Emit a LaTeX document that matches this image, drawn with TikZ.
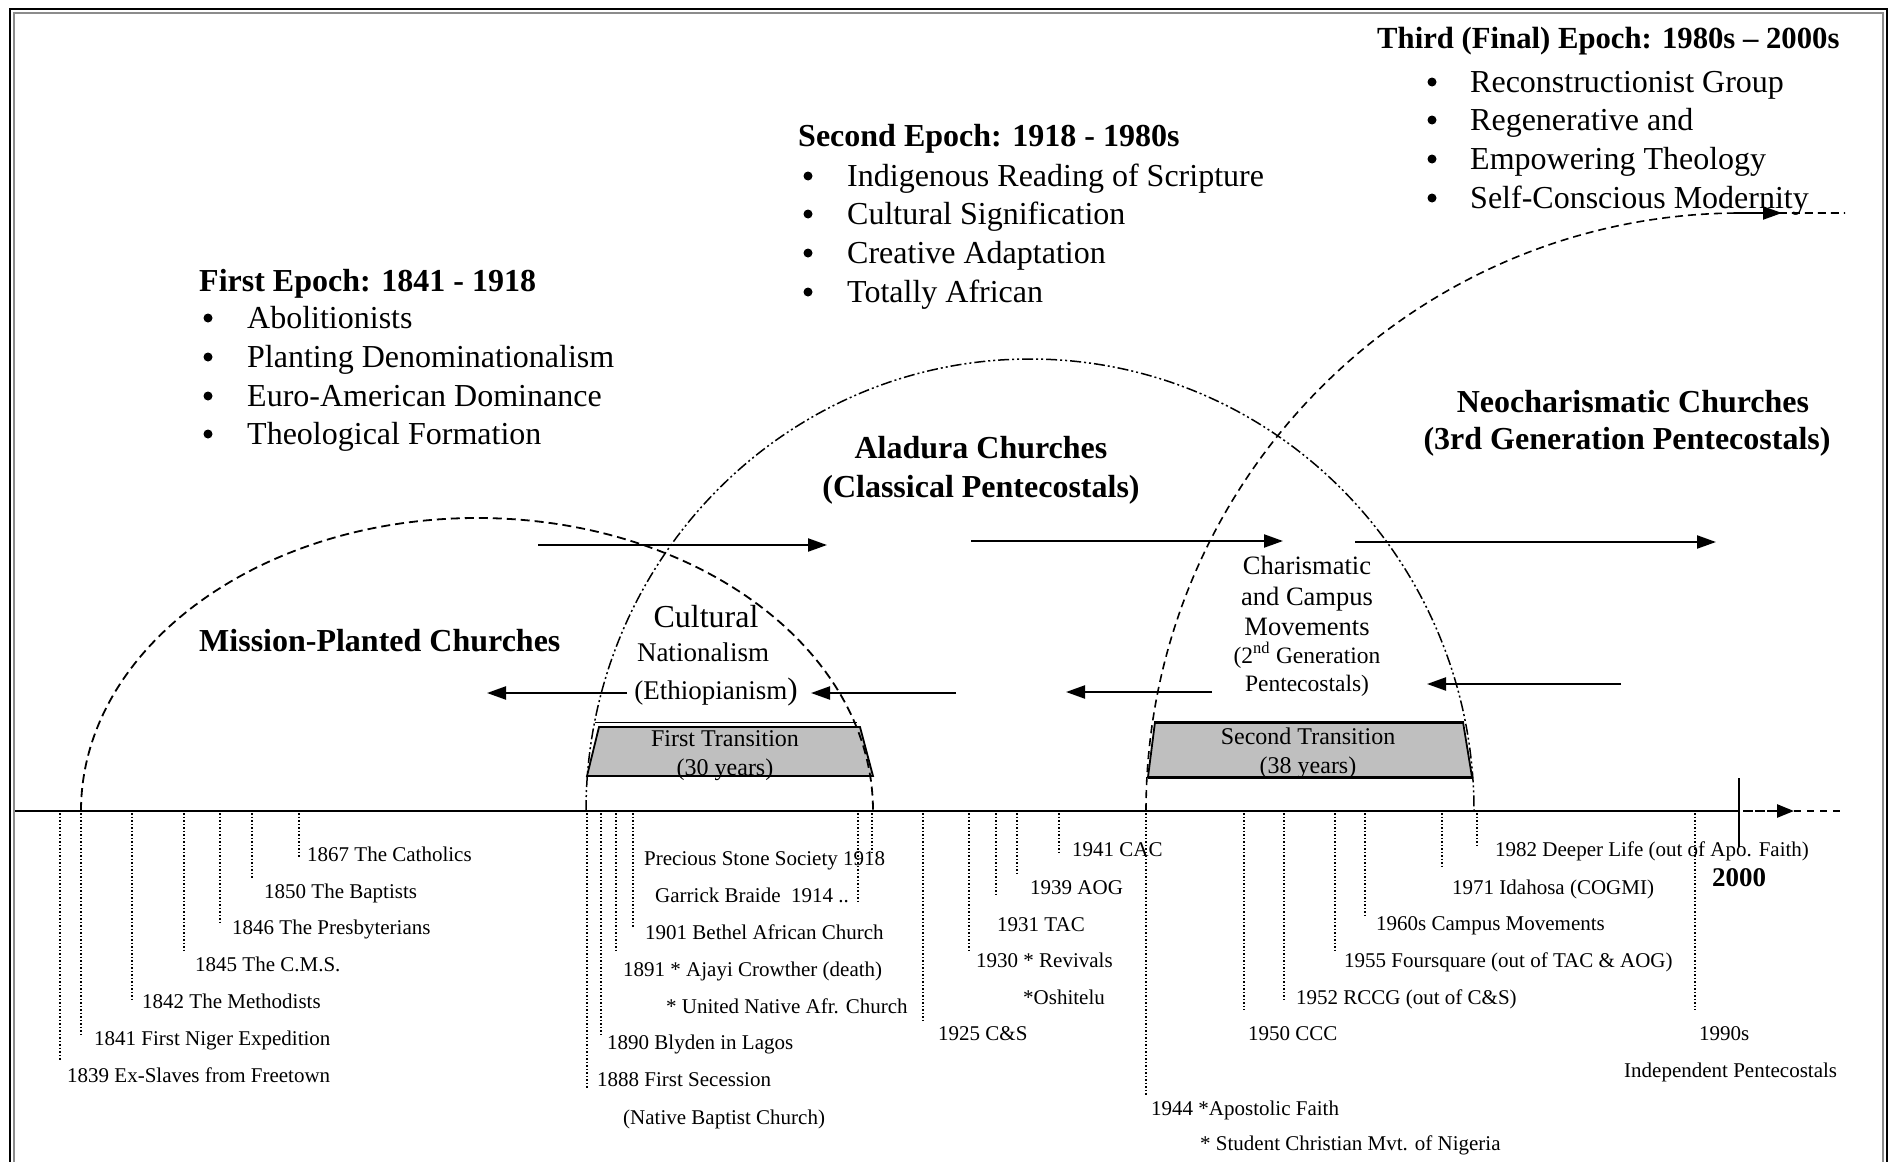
\documentclass[tikz,border=0pt]{standalone}
\usepackage{fontspec}
\setmainfont{Liberation Serif}
\usetikzlibrary{arrows.meta}
\begin{document}
\begin{tikzpicture}[x=1pt,y=-1pt,
  lab/.style={font=\fontsize{21}{24}\selectfont,anchor=west,inner sep=0pt,text height=14.3pt,text depth=0pt},
  bul/.style={font=\fontsize{32}{38}\selectfont,anchor=west,inner sep=0pt,text height=21.5pt,text depth=0pt},
  dot/.style={circle,fill=black,inner sep=0pt,minimum size=9pt},
  head/.style={font=\bfseries\fontsize{32}{38}\selectfont,anchor=west,inner sep=0pt,text height=21.5pt,text depth=0pt},
  chead/.style={font=\bfseries\fontsize{32}{38}\selectfont,inner sep=0pt,text height=21.5pt,text depth=0pt},
  mid/.style={font=\fontsize{27}{32}\selectfont,inner sep=0pt,text height=18.4pt,text depth=0pt},
  midb/.style={font=\fontsize{32}{38}\selectfont,inner sep=0pt,text height=21.5pt,text depth=0pt},
  cha/.style={font=\fontsize{26.5}{31}\selectfont,inner sep=0pt,text height=18pt,text depth=0pt},
  chs/.style={font=\fontsize{23.5}{28}\selectfont,inner sep=0pt,text height=16pt,text depth=0pt},
  trs/.style={font=\fontsize{24}{28}\selectfont,inner sep=0pt,text height=16.3pt,text depth=0pt},
  tk/.style={line width=1.3pt,dash pattern=on 1.5pt off 2pt},
  arr/.style={line width=2.2pt,-{Triangle[length=19pt,width=13pt]}},
  mis/.style={line width=1.8pt,dash pattern=on 9pt off 5pt},
  ala/.style={line width=1.5pt,dash pattern=on 11pt off 3pt on 2pt off 3pt on 2pt off 3pt},
  thd/.style={line width=1.6pt,dash pattern=on 8pt off 5pt},
  box/.style={draw=black,line width=1.8pt,fill=black!25}
]
\useasboundingbox (0,0) rectangle (1896,1162);
\clip (0,0) rectangle (1896,1162);
% frame
\draw[line width=2.2pt] (10,9) rectangle (1887,1175);
\draw[black!45,line width=1.5pt] (14,13) rectangle (1883,1175);

% transition boxes
\draw[line width=1pt] (595,722) -- (857,722);
\draw[box] (599,727) -- (860,727) -- (873,776) -- (587,776) -- cycle;
\draw[line width=2.6pt] (587,776) -- (873,776);
\node[trs] (t1a) at (725,738) {First Transition};
\node[trs] (t1b) at (725,767) {(30 years)};
\draw[box] (1155,722) -- (1463,722) -- (1472,777) -- (1148,777) -- cycle;
\draw[line width=3pt] (1155,722) -- (1463,722);
\draw[line width=3pt] (1148,777) -- (1472,777);
\node[trs] (t2a) at (1308,736) {Second Transition};
\node[trs] (t2b) at (1308,765) {(38 years)};

% arcs
\draw[mis] (81,811) arc[start angle=180,end angle=0,x radius=396pt,y radius=293pt];
\draw[ala] (586,811) arc[start angle=180,end angle=0,x radius=444pt,y radius=452pt];
\draw[thd] (1146,811) arc[start angle=180,end angle=90,x radius=595pt,y radius=598pt] -- (1845,213);
\coordinate (t3s) at (1734,213);
\coordinate (t3e) at (1782,213);
\draw[arr] (t3s) -- (t3e);

% axis
\coordinate (ax0) at (15,811);
\coordinate (ax1) at (1739,811);
\draw[line width=1.8pt] (ax0) -- (ax1);
\draw[line width=1.5pt] (1739,778) -- (1739,847);
\coordinate (ay0) at (1743,811);
\coordinate (ay1) at (1794,811);
\coordinate (ay2) at (1840,811);
\draw[line width=2.6pt,dash pattern=on 10pt off 2pt,-{Triangle[length=17pt,width=13pt]}] (ay0) -- (ay1);
\draw[line width=1.5pt,dash pattern=on 7pt off 6pt] (ay1) -- (ay2);
\node[font=\bfseries\fontsize{27}{32}\selectfont,inner sep=0pt,text height=18pt,text depth=0pt] (y2000) at (1739,877) {2000};

% ticks
\foreach \x/\b in {60/1060,81/1037,132/1002,184/953,220/923,252/878,299/858,
  587/1088,601/1037,616/952,633/928,858/902,872/855,923/1020,969/952,996/897,1017/875,1059/855,
  1146/1095,1244/1010,1284/1002,1335/953,1365/918,1442/868,1477/848,1695/1010}
  \draw[tk] (\x,813) -- (\x,\b);

% timeline labels
\node[lab] (l1867) at (307,854) {1867 The Catholics};
\node[lab] (l1850) at (264,891) {1850 The Baptists};
\node[lab] (l1846) at (232,927) {1846 The Presbyterians};
\node[lab] (l1845) at (195,964) {1845 The C.M.S.};
\node[lab] (l1842) at (142,1001) {1842 The Methodists};
\node[lab] (l1841) at (94,1038) {1841 First Niger Expedition};
\node[lab] (l1839) at (67,1075) {1839 Ex-Slaves from Freetown};
\node[lab] (l1918) at (644,858) {Precious Stone Society 1918};
\node[lab] (l1914) at (655,895) {Garrick Braide\ \ 1914 ..};
\node[lab] (l1901) at (645,932) {1901 Bethel African Church};
\node[lab] (l1891) at (623,969) {1891 * Ajayi Crowther (death)};
\node[lab] (l1891b) at (666,1006) {* United Native Afr. Church};
\node[lab] (l1890) at (607,1042) {1890 Blyden in Lagos};
\node[lab] (l1888) at (597,1079) {1888 First Secession};
\node[lab] (l1888b) at (623,1117) {(Native Baptist Church)};
\node[lab] (l1925) at (938,1033) {1925 C\&S};
\node[lab] (l1930) at (976,960) {1930 * Revivals};
\node[lab] (l1930b) at (1023,997) {*Oshitelu};
\node[lab] (l1931) at (997,924) {1931 TAC};
\node[lab] (l1939) at (1030,887) {1939 AOG};
\node[lab] (l1941) at (1072,849) {1941 CAC};
\node[lab] (l1944) at (1151,1108) {1944 *Apostolic Faith};
\node[lab] (l1944b) at (1200,1143) {* Student Christian Mvt. of Nigeria};
\node[lab] (l1950) at (1248,1033) {1950 CCC};
\node[lab] (l1952) at (1296,997) {1952 RCCG (out of C\&S)};
\node[lab] (l1955) at (1344,960) {1955 Foursquare (out of TAC \& AOG)};
\node[lab] (l1960) at (1376,923) {1960s Campus Movements};
\node[lab] (l1971) at (1452,887) {1971 Idahosa (COGMI)};
\node[lab] (l1982) at (1495,849) {1982 Deeper Life (out of Apo. Faith)};
\node[lab] (l1990) at (1699,1033) {1990s};
\node[lab] (l1990b) at (1624,1070) {Independent Pentecostals};

% epochs
\node[head] (e1) at (199,281) {First Epoch: 1841 - 1918};
\foreach \y/\t [count=\i] in {318/Abolitionists,357/Planting Denominationalism,396/Euro-American Dominance,434/Theological Formation}{
  \node[dot] (e1d\i) at (208,\y) {};
  \node[bul] (e1t\i) at (247,\y) {\t};
}
\node[head] (e2) at (798,136) {Second Epoch: 1918 - 1980s};
\foreach \y/\t [count=\i] in {176/Indigenous Reading of Scripture,214/Cultural Signification,253/Creative Adaptation,292/Totally African}{
  \node[dot] (e2d\i) at (808,\y) {};
  \node[bul] (e2t\i) at (847,\y) {\t};
}
\node[head,font=\bfseries\fontsize{30.7}{36}\selectfont] (e3) at (1377,38) {Third (Final) Epoch: 1980s – 2000s};
\foreach \y/\t [count=\i] in {82/Reconstructionist Group,120/Regenerative and,159/Empowering Theology,198/Self-Conscious Modernity}{
  \node[dot] (e3d\i) at (1432,\y) {};
  \node[bul] (e3t\i) at (1470,\y) {\t};
}

% church groups
\node[head] (mpc) at (199,641) {Mission-Planted Churches};
\node[chead] (ala1) at (981,448) {Aladura Churches};
\node[chead] (ala2) at (981,487) {(Classical Pentecostals)};
\node[chead] (neo1) at (1633,402) {Neocharismatic Churches};
\node[chead] (neo2) at (1627,439) {(3rd Generation Pentecostals)};

\node[midb] (cul1) at (706,617) {Cultural};
\node[mid] (cul2) at (703,652) {Nationalism};
\node[mid] (cul3) at (716,690) {(Ethiopianism{\fontsize{31}{36}\selectfont)}};

\node[cha] (ch1) at (1307,565) {Charismatic};
\node[cha] (ch2) at (1307,596) {and Campus};
\node[cha] (ch3) at (1307,626) {Movements};
\node[chs] (ch4) at (1307,655) {(2\textsuperscript{nd} Generation};
\node[chs] (ch5) at (1307,683) {Pentecostals)};

% horizontal arrows
\coordinate (a1s) at (538,545); \coordinate (a1e) at (827,545);
\coordinate (a2s) at (971,541); \coordinate (a2e) at (1283,541);
\coordinate (a3s) at (1355,542); \coordinate (a3e) at (1716,542);
\coordinate (b1s) at (627,693); \coordinate (b1e) at (487,693);
\coordinate (b2s) at (956,693); \coordinate (b2e) at (811,693);
\coordinate (b3s) at (1212,692); \coordinate (b3e) at (1066,692);
\coordinate (b4s) at (1621,684); \coordinate (b4e) at (1427,684);
\foreach \p in {a1,a2,a3,b1,b2,b3,b4}
  \draw[arr] (\p s) -- (\p e);
\end{tikzpicture}
\end{document}
